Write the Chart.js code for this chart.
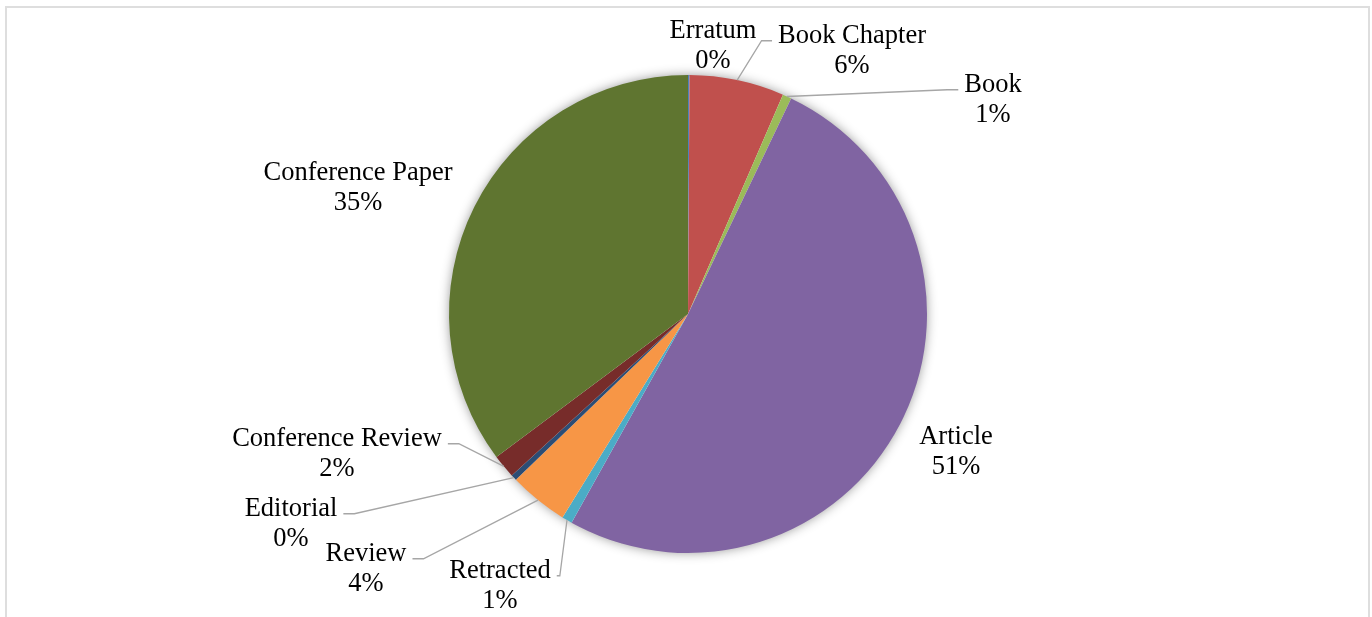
<!DOCTYPE html>
<html>
<head>
<meta charset="utf-8">
<title>Document types</title>
<script src="https://cdn.jsdelivr.net/npm/chart.js@4"></script>
<style>
  html, body { margin: 0; padding: 0; background: #fff; overflow: hidden; }
  #frame {
    position: absolute; left: 5px; top: 6px; width: 1365px; height: 640px;
    border: 2px solid #dedede; box-sizing: border-box;
  }
  #wrap { position: absolute; left: 0; top: 0; width: 1372px; height: 617px; }
</style>
</head>
<body>
<div id="frame"></div>
<div id="wrap"><canvas id="pie" width="1372" height="617"></canvas></div>
<script>
// document types, clockwise from 12 o'clock
const categories = ['Erratum', 'Book Chapter', 'Book', 'Article', 'Retracted',
  'Review', 'Editorial', 'Conference Review', 'Conference Paper'];
const shares = [0.1, 6.4, 0.6, 51.0, 0.7, 4.0, 0.4, 1.6, 35.2];
const sliceColors = ['#4f81bd', '#c0504d', '#9bbb59', '#8064a2', '#4bacc6',
  '#f79646', '#2c4d75', '#772c2a', '#5f7530'];

// where each label block sits, measured from the pie centre, and whether it gets a leader line
const labelOffsets = [[25, -268], [164, -263], [305, -214], [268, 138], [-188, 272],
  [-322, 255], [-397, 210], [-351, 140], [-330, -126]];
const hasLeader = [false, true, true, false, true, true, true, true, false];

const FONT = '26.5px "Liberation Serif", "Times New Roman", serif';
const LINE_H = 30.5;

const total = shares.reduce((a, b) => a + b, 0);
const pctText = v => Math.round(v / total * 100) + '%';

const pieLabels = {
  id: 'pieLabels',
  beforeDatasetsDraw(chart) {
    // soft drop shadow under the whole pie
    const first = chart.getDatasetMeta(0).data[0];
    const { x, y, outerRadius } = first.getProps(['x', 'y', 'outerRadius'], true);
    const ctx = chart.ctx;
    ctx.save();
    ctx.shadowColor = 'rgba(0,0,0,0.45)';
    ctx.shadowBlur = 12;
    ctx.fillStyle = '#fff';
    ctx.beginPath();
    ctx.arc(x, y, outerRadius - 1, 0, Math.PI * 2);
    ctx.fill();
    ctx.restore();
  },
  afterDatasetsDraw(chart) {
    const ctx = chart.ctx;
    const arcs = chart.getDatasetMeta(0).data;
    ctx.save();
    ctx.font = FONT;
    ctx.textAlign = 'center';
    ctx.textBaseline = 'middle';
    arcs.forEach((arc, i) => {
      const { x, y, startAngle, endAngle, outerRadius } =
        arc.getProps(['x', 'y', 'startAngle', 'endAngle', 'outerRadius'], true);
      const mid = (startAngle + endAngle) / 2;
      const ax = x + Math.cos(mid) * outerRadius;
      const ay = y + Math.sin(mid) * outerRadius;
      const cx = x + labelOffsets[i][0];
      const cy = y + labelOffsets[i][1];
      const line1 = categories[i];
      const line2 = pctText(shares[i]);
      const y1 = cy - LINE_H / 2;
      const y2 = cy + LINE_H / 2;

      if (hasLeader[i]) {
        const halfW = Math.max(ctx.measureText(line1).width, ctx.measureText(line2).width) / 2;
        const side = ax > cx ? 1 : -1;
        const ex = cx + side * (halfW + 6);
        const ey = y1 + 5;
        const run = Math.min(11, Math.abs(ax - ex) * 0.3);
        const kx = ex + side * run;
        ctx.strokeStyle = '#a6a6a6';
        ctx.lineWidth = 1.3;
        ctx.beginPath();
        ctx.moveTo(ax, ay);
        ctx.lineTo(kx, ey);
        ctx.lineTo(ex, ey);
        ctx.stroke();
      }

      ctx.fillStyle = '#000';
      ctx.fillText(line1, cx, y1);
      ctx.fillText(line2, cx, y2);
    });
    ctx.restore();
  }
};

new Chart(document.getElementById('pie'), {
  type: 'pie',
  data: {
    labels: categories,
    datasets: [{
      data: shares,
      backgroundColor: sliceColors,
      borderWidth: 0,
    }],
  },
  options: {
    responsive: false,
    animation: false,
    layout: { padding: { top: 75, bottom: 64, left: 300, right: 296 } },
    plugins: {
      legend: { display: false },
      tooltip: { enabled: false },
    },
  },
  plugins: [pieLabels],
});
</script>
</body>
</html>
